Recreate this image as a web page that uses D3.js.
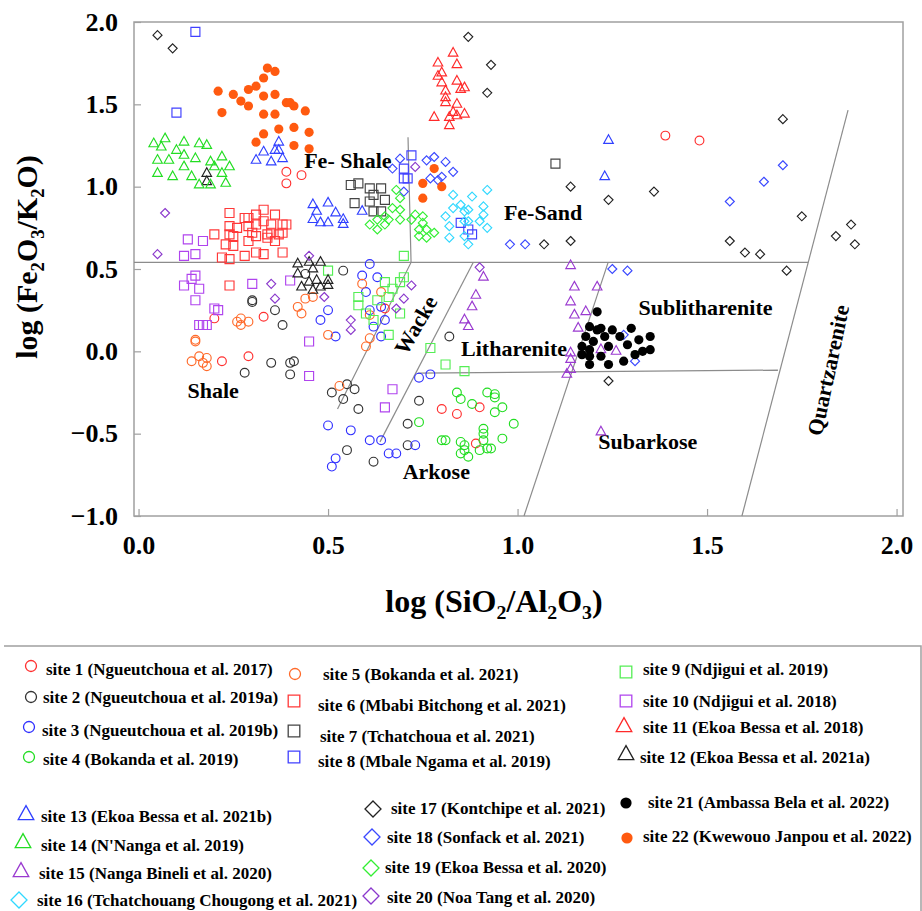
<!DOCTYPE html>
<html>
<head>
<meta charset="utf-8">
<title>log(SiO2/Al2O3) vs log(Fe2O3/K2O)</title>
<script src="https://cdn.jsdelivr.net/npm/d3@7"></script>
<style>
body { margin: 0; background: #fff; }
text { font-family: "Liberation Serif", "Times New Roman", serif; font-weight: bold; fill: #000; }
</style>
</head>
<body>
<svg id="chart" width="922" height="911"></svg>
<script>
// values: [log(SiO2/Al2O3), log(Fe2O3/K2O)]
var site1 = [[0.39,1.09],[0.43,1.07],[0.39,1.02],[1.39,1.31],[1.48,1.28],[0.20,0.20],[0.33,0.21],[0.22,-0.06],[0.29,-0.03],[0.65,0.26],[0.80,-0.35],[0.84,-0.38],[0.90,-0.34],[0.89,-0.56]];
var site2 = [[0.44,0.47],[0.54,0.49],[0.30,0.31],[0.30,0.30],[0.36,0.25],[0.38,0.16],[0.28,-0.13],[0.35,-0.07],[0.40,-0.07],[0.41,-0.06],[0.40,-0.14],[0.51,-0.25],[0.55,-0.20],[0.57,-0.23],[0.54,-0.29],[0.58,-0.35],[0.55,-0.60],[0.62,-0.67],[0.82,0.09],[0.74,-0.30],[0.71,-0.44],[0.71,-0.57]];
var site3 = [[0.61,0.53],[0.59,0.46],[0.63,0.45],[0.60,0.36],[0.50,0.25],[0.48,0.19],[0.61,0.25],[0.64,0.27],[0.62,0.15],[0.65,0.19],[0.52,0.09],[0.64,0.09],[0.50,-0.45],[0.56,-0.48],[0.61,-0.54],[0.64,-0.54],[0.52,-0.65],[0.51,-0.70],[0.66,-0.62],[0.68,-0.62],[0.73,-0.57],[0.74,-0.16],[0.77,-0.14]];
var site4 = [[0.84,-0.25],[0.85,-0.29],[0.92,-0.25],[0.94,-0.26],[0.94,-0.28],[0.88,-0.32],[0.96,-0.34],[0.94,-0.37],[0.74,-0.43],[0.99,-0.44],[0.91,-0.47],[0.91,-0.50],[0.91,-0.54],[0.80,-0.54],[0.81,-0.54],[0.85,-0.55],[0.86,-0.57],[0.96,-0.53],[0.92,-0.59],[0.93,-0.59],[0.90,-0.60],[0.85,-0.62],[0.86,-0.60],[0.87,-0.64]];
var site5 = [[0.59,0.41],[0.64,0.36],[0.44,0.32],[0.46,0.33],[0.42,0.27],[0.43,0.23],[0.26,0.18],[0.27,0.20],[0.29,0.18],[0.27,0.16],[0.15,0.06],[0.15,0.07],[0.14,-0.06],[0.16,-0.03],[0.18,-0.04],[0.17,-0.07],[0.18,-0.09],[0.61,0.08],[0.60,0.03],[0.50,0.10],[0.53,-0.21],[0.61,0.22]];
var site6 = [[0.24,0.84],[0.28,0.81],[0.29,0.81],[0.31,0.83],[0.33,0.86],[0.36,0.83],[0.24,0.76],[0.26,0.75],[0.29,0.76],[0.31,0.77],[0.33,0.79],[0.35,0.77],[0.38,0.77],[0.39,0.77],[0.20,0.71],[0.24,0.71],[0.25,0.70],[0.30,0.72],[0.31,0.70],[0.34,0.71],[0.35,0.72],[0.37,0.71],[0.38,0.72],[0.23,0.65],[0.25,0.64],[0.29,0.67],[0.34,0.69],[0.36,0.67],[0.22,0.57],[0.24,0.56],[0.28,0.58],[0.31,0.60],[0.33,0.59],[0.38,0.60],[0.24,0.40]];
var site7 = [[0.56,1.01],[0.58,1.02],[0.61,0.99],[0.64,0.99],[0.62,0.95],[0.65,0.92],[0.57,0.90],[0.61,0.91],[0.62,0.85],[0.64,0.85],[1.10,1.14]];
var site8 = [[0.15,1.94],[0.10,1.45],[0.72,1.19],[0.70,1.11],[0.70,1.05],[0.71,1.05],[0.85,0.78],[0.87,0.74],[0.88,0.71]];
var site9 = [[0.70,0.58],[0.50,0.49],[0.65,0.42],[0.67,0.38],[0.69,0.42],[0.70,0.45],[0.58,0.33],[0.63,0.31],[0.66,0.33],[0.58,0.28],[0.60,0.23],[0.62,0.19],[0.69,0.23],[0.66,0.10],[0.77,0.02],[0.81,-0.08],[0.86,-0.12]];
var site10 = [[0.13,0.68],[0.17,0.67],[0.12,0.58],[0.15,0.59],[0.15,0.46],[0.14,0.44],[0.12,0.40],[0.16,0.38],[0.15,0.31],[0.20,0.26],[0.21,0.25],[0.16,0.16],[0.17,0.16],[0.18,0.16],[0.30,0.41],[0.40,0.43],[0.45,0.06],[0.45,-0.15],[0.67,-0.23],[0.65,-0.34]];
var site11 = [[0.83,1.81],[0.79,1.75],[0.84,1.74],[0.80,1.69],[0.79,1.67],[0.80,1.63],[0.84,1.64],[0.85,1.59],[0.86,1.60],[0.81,1.58],[0.81,1.51],[0.81,1.54],[0.84,1.50],[0.78,1.42],[0.83,1.45],[0.82,1.42],[0.84,1.43],[0.86,1.44],[0.82,1.37]];
var site12 = [[0.18,1.08],[0.18,1.03],[0.42,0.53],[0.45,0.54],[0.48,0.54],[0.46,0.50],[0.42,0.47],[0.45,0.42],[0.47,0.43],[0.50,0.43],[0.43,0.39],[0.46,0.37],[0.48,0.39],[0.50,0.40]];
var site13 = [[0.37,1.27],[0.33,1.21],[0.36,1.22],[0.37,1.22],[0.31,1.16],[0.35,1.15],[0.38,1.17],[0.46,0.89],[0.50,0.90],[0.47,0.85],[0.52,0.84],[0.46,0.80],[0.48,0.78],[0.50,0.78],[0.54,0.80],[0.54,0.77],[0.59,0.85],[1.24,1.28],[1.23,1.06]];
var site14 = [[0.04,1.26],[0.07,1.29],[0.06,1.24],[0.12,1.27],[0.16,1.26],[0.18,1.25],[0.10,1.22],[0.05,1.16],[0.08,1.16],[0.12,1.19],[0.15,1.17],[0.19,1.15],[0.22,1.18],[0.12,1.12],[0.20,1.12],[0.24,1.12],[0.05,1.08],[0.09,1.06],[0.14,1.06],[0.22,1.08],[0.16,1.01],[0.19,1.01],[0.23,1.02]];
var site15 = [[1.14,0.52],[0.91,0.45],[1.15,0.39],[1.21,0.39],[0.89,0.34],[1.14,0.30],[0.88,0.27],[1.15,0.22],[1.18,0.24],[0.86,0.19],[0.87,0.15],[1.16,0.14],[1.14,-0.01],[1.14,-0.05],[1.14,-0.11],[1.13,-0.14],[1.22,0.01],[1.26,0.00],[1.22,-0.49]];
var site16 = [[0.83,0.95],[0.85,0.89],[0.88,0.94],[0.92,0.98],[0.83,0.87],[0.86,0.85],[0.87,0.86],[0.91,0.88],[0.81,0.82],[0.91,0.83],[0.82,0.76],[0.86,0.79],[0.87,0.79],[0.90,0.79],[0.92,0.75],[0.82,0.69],[0.86,0.70],[0.87,0.65]];
var site17 = [[0.05,1.92],[0.09,1.84],[0.87,1.91],[0.93,1.74],[0.92,1.57],[1.14,1.00],[1.24,0.92],[1.07,0.65],[1.14,0.67],[1.70,1.41],[1.36,0.97],[1.75,0.82],[1.56,0.67],[1.60,0.60],[1.64,0.59],[1.88,0.77],[1.84,0.70],[1.89,0.65],[1.71,0.49],[1.24,-0.18]];
var site18 = [[0.69,1.17],[0.67,1.11],[0.70,0.97],[0.76,1.16],[0.78,1.18],[0.81,1.15],[0.77,1.05],[0.79,1.04],[0.80,1.06],[0.83,1.09],[0.98,0.65],[1.02,0.65],[1.70,1.13],[1.65,1.03],[1.56,0.91],[1.25,0.50],[1.29,0.49],[1.28,0.10],[1.31,-0.06]];
var site19 = [[0.68,0.98],[0.69,0.93],[0.67,0.87],[0.69,0.86],[0.65,0.82],[0.66,0.80],[0.69,0.80],[0.63,0.80],[0.65,0.77],[0.63,0.74],[0.61,0.77],[0.73,0.83],[0.75,0.82],[0.72,0.80],[0.75,0.78],[0.74,0.74],[0.76,0.74],[0.74,0.70],[0.76,0.69],[0.78,0.72]];
var site20 = [[0.07,0.84],[0.05,0.59],[0.45,0.58],[0.35,0.41],[0.36,0.32],[0.49,0.33],[0.56,0.19],[0.56,0.13],[0.68,0.26],[0.70,0.32],[0.72,0.40],[0.90,0.51],[0.73,1.12]];
var site21 = [[1.21,0.24],[1.19,0.15],[1.21,0.13],[1.22,0.14],[1.25,0.13],[1.30,0.14],[1.18,0.09],[1.20,0.06],[1.23,0.09],[1.27,0.09],[1.32,0.07],[1.35,0.09],[1.17,0.03],[1.19,0.01],[1.24,0.03],[1.29,0.04],[1.19,-0.03],[1.22,-0.03],[1.17,-0.02],[1.19,-0.08],[1.24,-0.08],[1.28,-0.06],[1.31,-0.02],[1.33,0.00],[1.35,0.01]];
var site22 = [[0.34,1.72],[0.36,1.70],[0.33,1.66],[0.29,1.59],[0.31,1.61],[0.21,1.58],[0.25,1.56],[0.33,1.55],[0.36,1.56],[0.27,1.52],[0.29,1.49],[0.39,1.51],[0.40,1.51],[0.41,1.49],[0.22,1.45],[0.33,1.44],[0.36,1.44],[0.44,1.46],[0.37,1.35],[0.41,1.36],[0.45,1.33],[0.33,1.32],[0.31,1.27],[0.41,1.25],[0.45,1.23],[0.78,1.11],[0.75,1.02],[0.80,1.00],[0.75,0.93]];

var siteData = [site1, site2, site3, site4, site5, site6, site7, site8, site9, site10, site11,
                site12, site13, site14, site15, site16, site17, site18, site19, site20, site21, site22];

var siteNames = ["site 1 (Ngueutchoua et al. 2017)", "site 2 (Ngueutchoua et al. 2019a)",
  "site 3 (Ngueutchoua et al. 2019b)", "site 4 (Bokanda et al. 2019)", "site 5 (Bokanda et al. 2021)",
  "site 6 (Mbabi Bitchong et al. 2021)", "site 7 (Tchatchoua et al. 2021)", "site 8 (Mbale Ngama et al. 2019)",
  "site 9 (Ndjigui et al. 2019)", "site 10 (Ndjigui et al. 2018)", "site 11 (Ekoa Bessa et al. 2018)",
  "site 12 (Ekoa Bessa et al. 2021a)", "site 13 (Ekoa Bessa et al. 2021b)", "site 14 (N'Nanga et al. 2019)",
  "site 15 (Nanga Bineli et al. 2020)", "site 16 (Tchatchouang Chougong et al. 2021)",
  "site 17 (Kontchipe et al. 2021)", "site 18 (Sonfack et al. 2021)", "site 19 (Ekoa Bessa et al. 2020)",
  "site 20 (Noa Tang et al. 2020)", "site 21 (Ambassa Bela et al. 2022)", "site 22 (Kwewouo Janpou et al. 2022)"];

var siteShapes = ["circle","circle","circle","circle","circle","square","square","square","square","square",
  "triangle","triangle","triangle","triangle","triangle","diamond","diamond","diamond","diamond","diamond","dot","dot"];

var siteColors = ["#ff3030","#333333","#3030ff","#22dd22","#ff6a2a","#ff3838","#444444","#4040ff","#55ee55","#b044ee",
  "#ff2a2a","#222222","#3040ff","#22dd22","#9a3ad0","#30d8ff","#222222","#3a48ff","#33ee33","#8a38cc","#000000","#ff5a10"];

var xTicks = [0, 0.5, 1, 1.5, 2];
var yTicks = [-1, -0.5, 0, 0.5, 1, 1.5, 2];

// class boundaries of the diagram, in data units
var boundaries = [
  [[-0.012, 0.54], [1.767, 0.54]],
  [[0.711, 1.30], [0.719, 0.54], [0.525, -0.35]],
  [[0.637, -0.55], [0.883, 0.54]],
  [[0.737, -0.132], [1.687, -0.114]],
  [[1.239, 0.54], [1.017, -1.0]],
  [[1.872, 1.465], [1.592, -1.0]]
];

var fieldNames = ["Fe- Shale", "Fe-Sand", "Shale", "Wacke", "Litharenite", "Arkose", "Sublitharenite", "Subarkose", "Quartzarenite"];
var fieldAnchors = [[0.437, 1.113], [0.964, 0.797], [0.129, -0.285], [0.731, 0.16], [0.851, -0.029],
                    [0.697, -0.777], [1.319, 0.220], [1.213, -0.595], [1.819, -0.114]];
var fieldAngles = [0, 0, 0, -60, 0, 0, 0, 0, -78];

// hand placed legend slots: [marker x, marker y, text x, text baseline]
var legendSlots = [[31,666,46,675],[31,697,43,703],[29,727,42,736],[29,757,43,765],
  [295,674,323,680],[294,701,318,711],[294,731,320,742],[294,757,318,767],
  [626,672,643,675],[626,701,643,707],[624,727,643,733],[626,755,640,763],
  [26,815,41,822],[23,843,41,851],[21,872,39,879],[19,900,37,906],
  [373,809,391,814],[372,837,387,843],[371,868,385,873],[371,896,387,903],
  [626,803,648,808],[627,838,643,842]];

var svg = d3.select("#chart");

var x = d3.scaleLinear().domain([-0.012, 2.017]).range([134, 903]);
var y = d3.scaleLinear().domain([-1, 2]).range([516, 22]);

function shapePath(shape, s) {
  if (shape === "square") return "M" + (-s) + "," + (-s) + "h" + (2 * s) + "v" + (2 * s) + "h" + (-2 * s) + "Z";
  if (shape === "diamond") return "M0," + (-s) + "L" + s + ",0L0," + s + "L" + (-s) + ",0Z";
  if (shape === "triangle") {
    var h = s * 1.8;
    return "M0," + (-h * 2 / 3) + "L" + s + "," + (h / 3) + "L" + (-s) + "," + (h / 3) + "Z";
  }
  return d3.arc()({innerRadius: 0, outerRadius: s, startAngle: 0, endAngle: 2 * Math.PI});
}

function markerSize(shape, big) {
  var small = {circle: 4.4, square: 4.5, triangle: 4.8, diamond: 4.5, dot: 4.6};
  var large = {circle: 5.5, square: 5.8, triangle: 7.8, diamond: 8, dot: 5.6};
  return big ? large[shape] : small[shape];
}

// frame
svg.append("rect")
  .attr("x", x.range()[0]).attr("y", y.range()[1])
  .attr("width", x.range()[1] - x.range()[0])
  .attr("height", y.range()[0] - y.range()[1])
  .attr("fill", "none").attr("stroke", "#a0a0a0").attr("stroke-width", 1.5);

// axes
var gx = svg.append("g")
  .attr("transform", "translate(0," + y.range()[0] + ")")
  .call(d3.axisBottom(x).tickValues(xTicks).tickFormat(d3.format(".1f"))
    .tickSizeInner(-7).tickSizeOuter(0).tickPadding(20));
var gy = svg.append("g")
  .attr("transform", "translate(" + x.range()[0] + ",0)")
  .call(d3.axisLeft(y).tickValues(yTicks).tickFormat(d3.format(".1f"))
    .tickSizeInner(-7).tickSizeOuter(0).tickPadding(16));
[gx, gy].forEach(function(g) {
  g.select(".domain").remove();
  g.selectAll(".tick line").attr("stroke", "#a0a0a0").attr("stroke-width", 1.2);
  g.selectAll(".tick text").attr("font-size", 26).attr("font-family", null).attr("fill", "#000");
});
gx.selectAll(".tick text").attr("dy", "0.71em");

// boundaries
var line = d3.line().x(function(d) { return x(d[0]); }).y(function(d) { return y(d[1]); });
svg.append("g").selectAll("path")
  .data(boundaries)
  .enter().append("path")
    .attr("d", line)
    .attr("fill", "none")
    .attr("stroke", "#8c8c8c")
    .attr("stroke-width", 1.2);

// field names
svg.append("g").selectAll("text")
  .data(fieldNames)
  .enter().append("text")
    .attr("transform", function(d, i) {
      return "translate(" + x(fieldAnchors[i][0]) + "," + y(fieldAnchors[i][1]) + ") rotate(" + fieldAngles[i] + ")";
    })
    .attr("text-anchor", function(d, i) { return fieldAngles[i] ? "middle" : "start"; })
    .attr("dy", function(d, i) { return fieldAngles[i] ? "0.35em" : 0; })
    .attr("font-size", 22)
    .text(function(d) { return d; });

// points
var groups = svg.append("g").selectAll("g")
  .data(siteData)
  .enter().append("g")
    .attr("stroke", function(d, i) { return siteColors[i]; })
    .attr("fill", function(d, i) { return siteShapes[i] === "dot" ? siteColors[i] : "none"; })
    .attr("stroke-width", function(d, i) { return siteShapes[i] === "dot" ? 0 : 1.15; });

groups.each(function(pts, i) {
  d3.select(this).selectAll("path")
    .data(pts)
    .enter().append("path")
      .attr("transform", function(d) { return "translate(" + x(d[0]) + "," + y(d[1]) + ")"; })
      .attr("d", shapePath(siteShapes[i], markerSize(siteShapes[i], false)));
});

// axis titles with subscripts
function subText(sel, parts) {
  parts.forEach(function(p) {
    var t = sel.append("tspan").text(p[0]);
    if (p[1] === 1) t.attr("font-size", "0.62em").attr("dy", 7);
    if (p[1] === -1) t.attr("dy", -7);
  });
}
var xTitle = svg.append("text")
  .attr("x", 494).attr("y", 612)
  .attr("text-anchor", "middle").attr("font-size", 32);
subText(xTitle, [["log (SiO", 0], ["2", 1], ["/Al", -1], ["2", 1], ["O", -1], ["3", 1], [")", -1]]);

var yTitle = svg.append("text")
  .attr("transform", "translate(37,257) rotate(-90)")
  .attr("text-anchor", "middle").attr("font-size", 30);
subText(yTitle, [["log (Fe", 0], ["2", 1], ["O", -1], ["3", 1], ["/K", -1], ["2", 1], ["O)", -1]]);

// legend box (top and right edges only)
svg.append("path")
  .attr("d", "M4,646H921V911")
  .attr("fill", "none").attr("stroke", "#a0a0a0").attr("stroke-width", 1.5);

var legend = svg.append("g").selectAll("g")
  .data(siteNames)
  .enter().append("g");

legend.append("path")
  .attr("transform", function(d, i) { return "translate(" + legendSlots[i][0] + "," + legendSlots[i][1] + ")"; })
  .attr("d", function(d, i) { return shapePath(siteShapes[i], markerSize(siteShapes[i], true)); })
  .attr("stroke", function(d, i) { return siteColors[i]; })
  .attr("fill", function(d, i) { return siteShapes[i] === "dot" ? siteColors[i] : "none"; })
  .attr("stroke-width", function(d, i) { return siteShapes[i] === "dot" ? 0 : 1.3; });

legend.append("text")
  .attr("x", function(d, i) { return legendSlots[i][2]; })
  .attr("y", function(d, i) { return legendSlots[i][3]; })
  .attr("font-size", 17)
  .text(function(d) { return d; });
</script>
</body>
</html>
